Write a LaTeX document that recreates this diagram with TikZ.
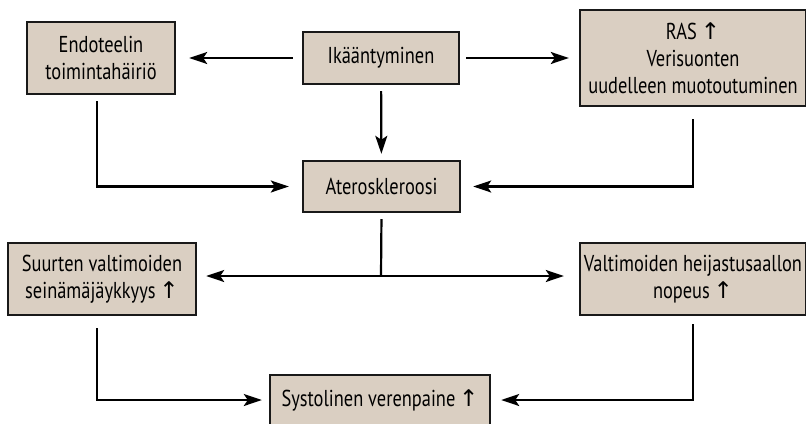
\documentclass[tikz,border=0pt]{standalone}
\usepackage{fontspec}
\setmainfont[FakeStretch=0.8]{PT Sans}
\newfontfamily\nuolifont{DejaVu Sans}
\usepackage{tikz}
\usetikzlibrary{arrows.meta}
\definecolor{boxfill}{RGB}{218,207,194}
\newcommand{\ylos}{\,{\nuolifont\fontsize{11.5}{11.5}\selectfont ↑}}

\begin{document}
\begin{tikzpicture}[x=0.5pt,y=-0.5pt,
          box/.style={draw=black!90,line width=1.2pt,fill=boxfill,align=center,
            inner sep=1pt,font=\fontsize{11.5}{13.5}\selectfont},
          arr/.style={line width=1.1pt,-{Stealth[length=9pt,width=6pt,inset=2pt]}},
          ln/.style={line width=1.1pt}]
          \useasboundingbox (0,0) rectangle (806,423);
          \node[box,minimum width=74pt,minimum height=36pt] (endo) at (101,58) {Endoteelin\\toimintahäiriö};
          \node[box,minimum width=78pt,minimum height=26pt] (ika) at (381,58) {Ikääntyminen};
          \node[box,minimum width=113pt,minimum height=48pt] (ras) at (693,58) {RAS\ylos\\Verisuonten\\uudelleen muotoutuminen};
          \node[box,minimum width=78.5pt,minimum height=25.5pt] (ater) at (381.5,186.5) {Ateroskleroosi};
          \node[box,minimum width=94pt,minimum height=36pt] (suur) at (102,279) {Suurten valtimoiden\\seinämäjäykkyys\ylos};
          \node[box,minimum width=113pt,minimum height=36pt] (valt) at (693,279) {Valtimoiden heijastusaallon\\nopeus\ylos};
          \node[box,minimum width=110pt,minimum height=25pt] (syst) at (380,400) {Systolinen verenpaine\ylos};
          \coordinate (split) at (381,276);
          % ylarivi
          \draw[arr,shorten <=4.5pt,shorten >=6.5pt] (ika) -- (endo);
          \draw[arr,shorten <=3pt,shorten >=5pt] (ika) -- (ras);
          \draw[arr,shorten <=3pt,shorten >=3pt] (ika) -- (ater);
          \draw[arr,shorten <=3pt,shorten >=6.5pt] ([xshift=-2pt]endo.south) |- (ater.west);
          \draw[arr,shorten <=6pt,shorten >=6pt] (ras.south) |- (ater.east);
          % keskirivi
          \draw[ln,shorten <=3pt] (ater.south) -- (split);
          \draw[arr,shorten >=4.5pt] (split) -- (split -| suur.east);
          \draw[arr,shorten >=7.5pt] (split) -- (split -| valt.west);
          % alarivi
          \draw[arr,shorten <=6pt,shorten >=3.5pt] ([xshift=-2.5pt]suur.south) |- (syst.west);
          \draw[arr,shorten <=4pt,shorten >=5pt] (valt.south) |- (syst.east);
        \end{tikzpicture}
\end{document}
